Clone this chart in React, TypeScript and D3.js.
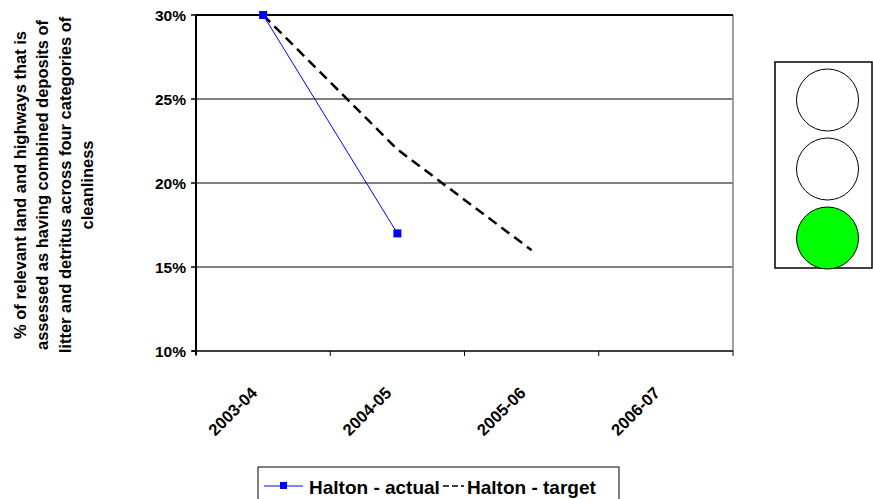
import React from "react";
import * as d3 from "d3";

const categories = ["2003-04", "2004-05", "2005-06", "2006-07"];
const actualValues: (number | null)[] = [30, 17, null, null];
const targetValues: (number | null)[] = [30, 22, 16, null];
const yTicks = [10, 15, 20, 25, 30];
const yTitleLines = [
  "% of relevant land and highways that is",
  "assessed as having combined deposits of",
  "litter and detritus across four categories of",
  "cleanliness",
];
const seriesNames = ["Halton - actual", "Halton - target"];
const lights = ["#FFFFFF", "#FFFFFF", "#00FF00"];

const W = 873, H = 499;
const L = 196, R = 733, T = 15, B = 351;
const FONT = "'Liberation Sans', Arial, sans-serif";

export default function App() {
  const x = d3.scaleBand<string>().domain(categories).range([L, R]).paddingInner(0).paddingOuter(0);
  const y = d3.scaleLinear().domain([10, 30]).range([B, T]);
  const cx = (c: string) => (x(c) as number) + x.bandwidth() / 2;

  const line = d3
    .line<number | null>()
    .defined((d) => d != null)
    .x((_, i) => cx(categories[i]))
    .y((d) => y(d as number));

  const boundaries = [L, ...categories.slice(1).map((c) => x(c) as number), R];

  return (
    <svg width={W} height={H} style={{ position: "absolute", left: 0, top: 0, background: "#fff" }}>
      {/* Y axis title */}
      <g transform="translate(0,185) rotate(-90)" fontFamily={FONT} fontWeight="bold" fontSize={16.5} fill="#000">
        {yTitleLines.map((t, i) => (
          <text key={i} x={0} y={26 + i * 22.3} textAnchor="middle">
            {t}
          </text>
        ))}
      </g>

      {/* gridlines */}
      {yTicks.filter((t) => t !== 10 && t !== 30).map((t) => (
        <line key={t} x1={L} x2={R} y1={y(t)} y2={y(t)} stroke="#000" strokeWidth={1} />
      ))}
      {/* right border */}
      <line x1={R} x2={R} y1={T} y2={B} stroke="#808080" strokeWidth={1.5} />
      {/* top border */}
      <line x1={L} x2={R} y1={T} y2={T} stroke="#000" strokeWidth={2} />
      {/* bottom axis */}
      <line x1={L - 4} x2={R} y1={B} y2={B} stroke="#000" strokeWidth={1.5} />
      {/* left axis */}
      <line x1={L} x2={L} y1={T} y2={B + 4} stroke="#000" strokeWidth={2} />

      {/* y ticks */}
      {yTicks.map((t) => (
        <g key={t}>
          <line x1={L - 5} x2={L} y1={y(t)} y2={y(t)} stroke="#000" strokeWidth={1.5} />
          <text x={186} y={y(t) + 5.5} textAnchor="end" fontFamily={FONT} fontWeight="bold" fontSize={15.5}>
            {t}%
          </text>
        </g>
      ))}

      {/* x ticks */}
      {boundaries.map((b, i) => (
        <line key={i} x1={b} x2={b} y1={B} y2={B + 5} stroke="#000" strokeWidth={1} />
      ))}
      {categories.map((c) => (
        <text
          key={c}
          transform={`translate(${cx(c) - 5},394) rotate(-45)`}
          textAnchor="end"
          fontFamily={FONT}
          fontWeight="bold"
          fontSize={16.5}
        >
          {c}
        </text>
      ))}

      {/* target line */}
      <path d={line(targetValues) || ""} fill="none" stroke="#000" strokeWidth={2.5} strokeDasharray="10,6" />
      {/* actual line */}
      <path d={line(actualValues) || ""} fill="none" stroke="#0000FF" strokeWidth={1} />
      {actualValues.map((v, i) =>
        v == null ? null : (
          <rect key={i} x={cx(categories[i]) - 4} y={y(v) - 4} width={8} height={8} fill="#0000FF" />
        )
      )}

      {/* legend */}
      <rect x={258} y={467} width={361} height={40} fill="#fff" stroke="#000" strokeWidth={1} />
      <line x1={264} x2={303} y1={486} y2={486} stroke="#0000FF" strokeWidth={1} />
      <rect x={280} y={482} width={7} height={7} fill="#0000FF" />
      <text x={309} y={494} fontFamily={FONT} fontWeight="bold" fontSize={19}>
        {seriesNames[0]}
      </text>
      <line x1={443} x2={464} y1={486} y2={486} stroke="#000" strokeWidth={1.5} strokeDasharray="6,3" />
      <text x={467} y={494} fontFamily={FONT} fontWeight="bold" fontSize={19}>
        {seriesNames[1]}
      </text>

      {/* traffic light */}
      <rect x={775} y={62} width={97} height={206} fill="#fff" stroke="#000" strokeWidth={1.5} />
      {lights.map((f, i) => (
        <circle key={i} cx={827.5} cy={100 + i * 69} r={31} fill={f} stroke="#000" strokeWidth={1} />
      ))}
    </svg>
  );
}
